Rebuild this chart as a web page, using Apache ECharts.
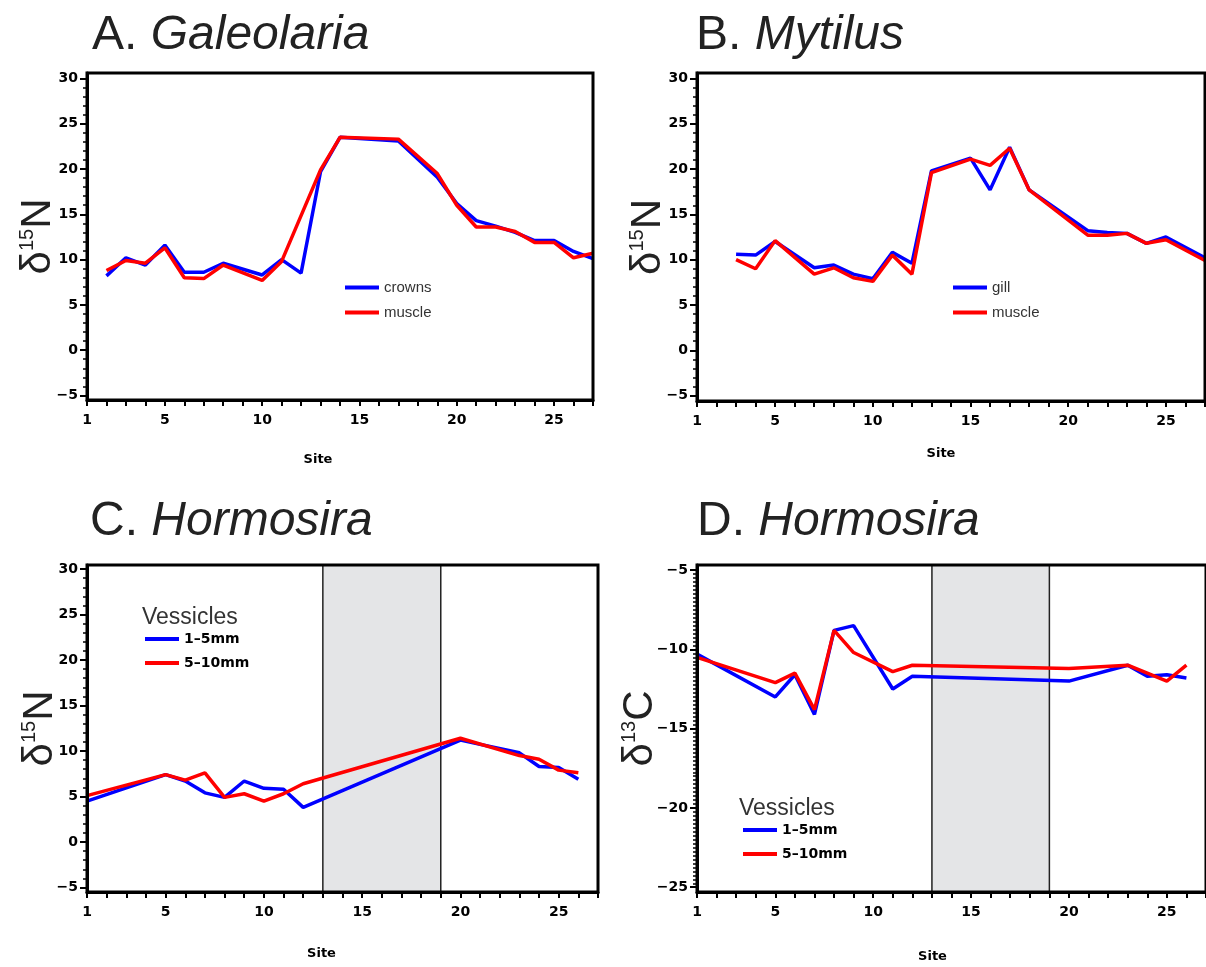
<!DOCTYPE html>
<html>
<head>
<meta charset="utf-8">
<title>Stable isotopes by site</title>
<script src="https://cdn.jsdelivr.net/npm/echarts@6/dist/echarts.min.js"></script>
<style>
  html, body { margin: 0; padding: 0; background: #fff; }
  #chart { width: 1206px; height: 967px; }
</style>
</head>
<body>
<div id="chart"></div>
<script>
// A. Galeolaria, d15N
const galCrownSites = [2, 3, 4, 5, 6, 7, 8, 10, 11, 12, 13, 14, 17, 19, 20, 21, 22, 23, 24, 25, 26, 27]
const galCrowns = [8.2, 10.2, 9.4, 11.6, 8.6, 8.6, 9.6, 8.3, 10.0, 8.5, 19.7, 23.5, 23.1, 19.1, 16.2, 14.3, 13.7, 13.0, 12.1, 12.1, 10.9, 10.1]
const galMuscleSites = [2, 3, 4, 5, 6, 7, 8, 10, 11, 13, 14, 17, 19, 20, 21, 22, 23, 24, 25, 26, 27]
const galMuscle = [8.8, 9.9, 9.6, 11.3, 8.0, 7.9, 9.4, 7.7, 9.8, 19.9, 23.5, 23.3, 19.5, 16.0, 13.6, 13.6, 13.1, 11.9, 11.9, 10.2, 10.7]

// B. Mytilus, d15N
const mytSites = [3, 4, 5, 7, 8, 9, 10, 11, 12, 13, 15, 16, 17, 18, 21, 22, 23, 24, 25, 27]
const mytGill = [10.6, 10.5, 12.0, 9.1, 9.4, 8.4, 7.9, 10.8, 9.6, 19.8, 21.2, 17.7, 22.4, 17.7, 13.2, 13.0, 12.9, 11.8, 12.5, 10.2]
const mytMuscle = [10.0, 9.0, 12.1, 8.4, 9.1, 8.0, 7.6, 10.5, 8.4, 19.6, 21.1, 20.4, 22.3, 17.7, 12.7, 12.7, 12.9, 11.8, 12.2, 9.9]

// C. Hormosira, d15N
const hormNSites = [1, 5, 6, 7, 8, 9, 10, 11, 12, 20, 23, 24, 25, 26]
const hormNSmall = [4.5, 7.4, 6.7, 5.4, 4.9, 6.7, 5.9, 5.8, 3.8, 11.2, 9.8, 8.3, 8.2, 6.9]
const hormNLarge = [5.1, 7.4, 6.8, 7.6, 4.9, 5.3, 4.5, 5.3, 6.4, 11.4, 9.5, 9.1, 7.9, 7.6]

// D. Hormosira, d13C
const hormCSites = [1, 5, 6, 7, 8, 9, 11, 12, 20, 23, 24, 25, 26]
const hormCSmall = [-10.3, -13.0, -11.6, -14.1, -8.8, -8.5, -12.5, -11.7, -12.0, -11.0, -11.7, -11.6, -11.8]
const hormCLarge = [-10.5, -12.1, -11.5, -13.8, -8.8, -10.2, -11.4, -11.0, -11.2, -11.0, -11.5, -12.0, -11.0]

// shaded band of sites in C and D
const gapBand = [13, 19]

const siteTicks = [1, 5, 10, 15, 20, 25]
const nTicks = [-5, 0, 5, 10, 15, 20, 25, 30]
const cTicks = [-25, -20, -15, -10, -5]

const FONT = 'Liberation Sans'
const BOLD = 'DejaVu Sans'
const BLUE = '#0000ff'
const RED = '#ff0000'

const pairs = (xs, ys) => xs.map((x, i) => [x, ys[i]])
const minus = v => (v < 0 ? '\u2212' + Math.abs(v) : String(v))
const steps = (lo, hi, step) => {
  const out = []
  for (let v = lo; v <= hi + 1e-9; v += step) out.push(+v.toFixed(3))
  return out
}

const grids = [
  { left: 87, top: 73, width: 506, height: 327 },
  { left: 697, top: 73, width: 508, height: 328 },
  { left: 87, top: 565, width: 511, height: 327 },
  { left: 697, top: 565, width: 512, height: 327 }
]

const yRanges = [[-5.5, 30.6], [-5.6, 30.6], [-5.5, 30.45], [-25.3, -4.68]]
const yLabels = [nTicks, nTicks, nTicks, cTicks]
const yMinor = [steps(-5, 30, 1), steps(-5, 30, 1), steps(-5, 30, 1), steps(-25, -5, 0.25)]
const yNames = ['15|N', '15|N', '15|N', '13|C']
const yNameGaps = [28, 28, 26, 36]
const siteGaps = [53, 46, 55, 58]
const sitePads = [44, 20, 42, 38]

const yNameRich = {
  d: { fontFamily: FONT, fontSize: 42, color: '#222' },
  s: { fontFamily: FONT, fontSize: 20, color: '#222', verticalAlign: 'top' },
  n: { fontFamily: FONT, fontSize: 42, color: '#222' }
}

const xAxis = grids.map((g, i) => ({
  type: 'value',
  gridIndex: i,
  min: 1,
  max: 27,
  interval: 1,
  z: 5,
  name: 'Site',
  nameLocation: 'middle',
  nameGap: siteGaps[i],
  nameMoveOverlap: false,
  nameTextStyle: {
    fontFamily: BOLD, fontWeight: 'bold', fontSize: 13, color: '#000',
    padding: [0, sitePads[i], 0, 0]
  },
  axisLine: { onZero: false, lineStyle: { color: '#000', width: 3 } },
  axisTick: { length: 6, lineStyle: { color: '#000', width: 2 } },
  axisLabel: {
    customValues: siteTicks,
    margin: 13,
    fontFamily: BOLD, fontWeight: 'bold', fontSize: 14, color: '#000'
  },
  splitLine: { show: false }
}))

const yAxis = []
grids.forEach((g, i) => {
  const [sup, el] = yNames[i].split('|')
  yAxis.push({
    type: 'value',
    gridIndex: i,
    position: 'left',
    min: yRanges[i][0],
    max: yRanges[i][1],
    z: 5,
    name: `{d|δ}{s|${sup}}{n|${el}}`,
    nameLocation: 'middle',
    nameRotate: 90,
    nameGap: yNameGaps[i],
    nameMoveOverlap: false,
    nameTextStyle: { rich: yNameRich },
    axisLine: { onZero: false, lineStyle: { color: '#000', width: 3 } },
    axisTick: { customValues: yLabels[i], length: 7, lineStyle: { color: '#000', width: 2 } },
    axisLabel: {
      customValues: yLabels[i],
      formatter: minus,
      margin: 9,
      fontFamily: BOLD, fontWeight: 'bold', fontSize: 14, color: '#000'
    },
    splitLine: { show: false }
  })
  // minor ticks
  yAxis.push({
    type: 'value',
    gridIndex: i,
    position: 'left',
    min: yRanges[i][0],
    max: yRanges[i][1],
    z: 5,
    axisLine: { show: false, onZero: false },
    axisTick: { customValues: yMinor[i], length: 4, lineStyle: { color: '#000', width: 1.5 } },
    axisLabel: { show: false },
    splitLine: { show: false }
  })
})

const line = (name, panel, data, color, extra) => Object.assign({
  name,
  type: 'line',
  xAxisIndex: panel,
  yAxisIndex: panel * 2,
  data,
  showSymbol: false,
  symbol: 'none',
  lineStyle: { color, width: 3.5 },
  itemStyle: { color },
  animation: false
}, extra || {})

const band = {
  markArea: {
    silent: true,
    itemStyle: { color: '#e4e5e7', borderColor: '#222', borderWidth: 1.5 },
    data: [[{ xAxis: gapBand[0] }, { xAxis: gapBand[1] }]]
  }
}

const series = [
  line('crowns', 0, pairs(galCrownSites, galCrowns), BLUE),
  line('muscle', 0, pairs(galMuscleSites, galMuscle), RED),
  line('gill', 1, pairs(mytSites, mytGill), BLUE),
  line('muscle', 1, pairs(mytSites, mytMuscle), RED),
  line('1–5mm', 2, pairs(hormNSites, hormNSmall), BLUE, band),
  line('5–10mm', 2, pairs(hormNSites, hormNLarge), RED),
  line('1–5mm', 3, pairs(hormCSites, hormCSmall), BLUE, band),
  line('5–10mm', 3, pairs(hormCSites, hormCLarge), RED)
]

const titleRich = {
  n: { fontFamily: FONT, fontSize: 48, fontWeight: 'normal', color: '#222' },
  i: { fontFamily: FONT, fontSize: 48, fontWeight: 'normal', color: '#222', fontStyle: 'italic' }
}
const titles = [
  ['A. ', 'Galeolaria', 92, 12],
  ['B. ', 'Mytilus', 696, 12],
  ['C. ', 'Hormosira', 90, 498],
  ['D. ', 'Hormosira', 697, 498]
].map(([n, g, left, top]) => ({
  text: `{n|${n}}{i|${g}}`,
  left,
  top,
  padding: 0,
  textStyle: { fontWeight: 'normal', rich: titleRich }
}))

const legendBase = {
  orient: 'vertical',
  icon: 'rect',
  itemWidth: 34,
  itemHeight: 4,
  itemGap: 10,
  padding: 0,
  selectedMode: false
}
const plainText = { fontFamily: FONT, fontSize: 15, color: '#333' }
const boldText = { fontFamily: BOLD, fontWeight: 'bold', fontSize: 14, color: '#000' }

const legend = [
  Object.assign({}, legendBase, { data: ['crowns', 'muscle'], left: 345, top: 280, textStyle: plainText }),
  Object.assign({}, legendBase, { data: ['gill', 'muscle'], left: 953, top: 280, textStyle: plainText }),
  Object.assign({}, legendBase, { data: ['1–5mm', '5–10mm'], left: 145, top: 632, textStyle: boldText }),
  Object.assign({}, legendBase, { data: ['1–5mm', '5–10mm'], left: 743, top: 823, textStyle: boldText })
]

const chart = echarts.init(document.getElementById('chart'), null, { renderer: 'canvas' })
chart.setOption({
  animation: false,
  backgroundColor: '#fff',
  title: titles,
  legend,
  grid: grids.map(g => Object.assign({ show: true, z: 5, borderColor: '#000', borderWidth: 3 }, g)),
  xAxis,
  yAxis,
  series,
  graphic: [
    { type: 'text', left: 142, top: 606, style: { text: 'Vessicles', fontFamily: FONT, fontSize: 23, fill: '#333' } },
    { type: 'text', left: 739, top: 797, style: { text: 'Vessicles', fontFamily: FONT, fontSize: 23, fill: '#333' } }
  ]
})
</script>
</body>
</html>
